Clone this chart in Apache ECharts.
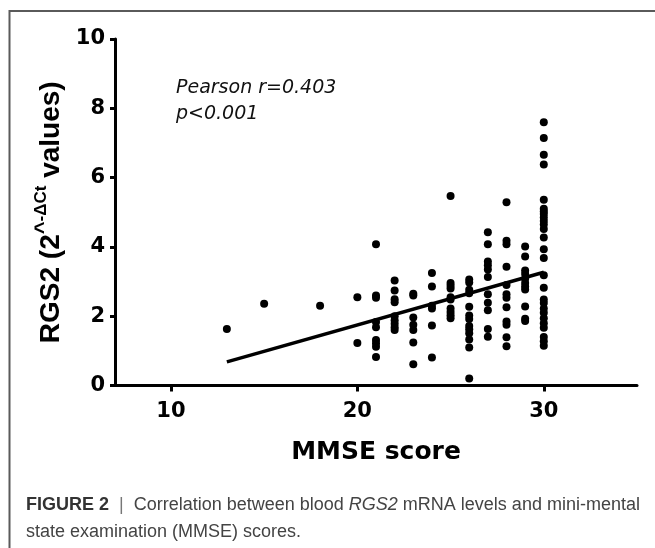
<!DOCTYPE html>
<html>
<head>
<meta charset="utf-8">
<script src="https://cdn.jsdelivr.net/npm/echarts@6/dist/echarts.min.js"></script>
<style>
html, body { margin: 0; padding: 0; background: #fff; }
#chart { width: 655px; height: 548px; }
</style>
</head>
<body>
<div id="chart"></div>
<script>
// MMSE score columns and the RGS2 values
const scores = [13, 15, 18, 20, 21, 22, 23, 24, 25, 26, 27, 28, 29, 30];
const rgs2 = [
  [1.63],
  [2.36],
  [2.30],
  [2.55, 1.23],
  [4.08, 2.60, 2.53, 1.83, 1.68, 1.31, 1.22, 1.12, 0.82],
  [3.03, 2.74, 2.49, 2.40, 2.00, 1.88, 1.78, 1.68, 1.60],
  [2.65, 2.60, 1.96, 1.75, 1.60, 1.24, 0.61],
  [3.25, 2.86, 2.30, 2.22, 1.73, 0.81],
  [5.47, 2.96, 2.88, 2.80, 2.55, 2.48, 2.22, 2.12, 2.03, 1.94],
  [3.06, 2.97, 2.76, 2.66, 2.27, 2.02, 1.92, 1.72, 1.62, 1.51, 1.33, 1.10, 0.20],
  [4.42, 4.08, 3.58, 3.47, 3.35, 3.13, 2.63, 2.39, 2.17, 1.63, 1.41],
  [5.29, 4.18, 4.08, 3.43, 2.90, 2.63, 2.53, 2.26, 1.85, 1.75, 1.39, 1.13],
  [4.01, 3.72, 3.32, 3.22, 3.08, 2.96, 2.86, 2.77, 2.28, 1.93, 1.86],
  [7.60, 7.14, 6.66, 6.38, 5.36, 5.10, 5.02, 4.95, 4.85, 4.75, 4.65, 4.52, 4.27,
   3.93, 3.68, 3.18, 2.82, 2.48, 2.38, 2.22, 2.10, 1.94, 1.80, 1.67, 1.40, 1.28, 1.15]
];
// regression line end points
const fitX = [13, 30];
const fitY = [0.68, 3.27];
const xTicks = [10, 20, 30];

var points = [];
scores.forEach(function (s, i) {
  rgs2[i].forEach(function (v) { points.push([s, v]); });
});
var fitLine = fitX.map(function (x, i) { return [x, fitY[i]]; });

var chart = echarts.init(document.getElementById('chart'), null, { renderer: 'canvas' });

var axisFont = { fontFamily: 'DejaVu Sans', fontWeight: 'bold', color: '#000' };

chart.setOption({
  animation: false,
  backgroundColor: '#fff',
  grid: { left: 115, right: 18, top: 39, bottom: 162.5, outerBoundsMode: 'none' },
  xAxis: {
    type: 'value',
    min: 7,
    max: 35,
    name: 'MMSE score',
    nameLocation: 'middle',
    nameGap: 54,
    nameTextStyle: Object.assign({ fontSize: 25 }, axisFont),
    axisLine: { lineStyle: { color: '#000', width: 3 } },
    axisTick: { customValues: xTicks, length: 6, lineStyle: { color: '#000', width: 3 } },
    axisLabel: Object.assign({ customValues: xTicks, fontSize: 21, margin: 16 }, axisFont),
    splitLine: { show: false }
  },
  yAxis: {
    type: 'value',
    min: 0,
    max: 10,
    interval: 2,
    name: '{m|RGS2 (2}{c|^}{s|-ΔCt}{m| values)}',
    nameLocation: 'middle',
    nameRotate: 90,
    nameGap: 46,
    nameTextStyle: {
      rich: {
        m: { fontFamily: 'Liberation Sans', fontWeight: 'bold', fontSize: 28, lineHeight: 36, color: '#000', verticalAlign: 'middle' },
        c: { fontFamily: 'Liberation Sans', fontWeight: 'bold', fontSize: 22, lineHeight: 24, color: '#000', verticalAlign: 'top' },
        s: { fontFamily: 'Liberation Sans', fontWeight: 'bold', fontSize: 17, lineHeight: 20, color: '#000', verticalAlign: 'top' }
      }
    },
    axisLine: { lineStyle: { color: '#000', width: 3 } },
    axisTick: { length: 5, lineStyle: { color: '#000', width: 3 } },
    axisLabel: Object.assign({ fontSize: 21, margin: 10 }, axisFont),
    splitLine: { show: false }
  },
  series: [
    {
      type: 'line',
      data: fitLine,
      symbol: 'none',
      lineStyle: { color: '#000', width: 3.5 },
      z: 2
    },
    {
      type: 'scatter',
      data: points,
      symbol: 'circle',
      symbolSize: 8,
      itemStyle: { color: '#000', opacity: 1 },
      z: 3
    }
  ],
  graphic: [
    {
      type: 'polyline',
      shape: { points: [[9.5, 548], [9.5, 11], [655, 11]] },
      style: { stroke: '#5a5a5a', lineWidth: 2, fill: null },
      silent: true
    },
    {
      type: 'text',
      left: 176,
      top: 75,
      style: {
        text: 'Pearson r=0.403\np<0.001',
        font: 'italic 19px "DejaVu Sans"',
        lineHeight: 26,
        fill: '#111'
      }
    },
    {
      type: 'text',
      left: 26,
      top: 496,
      style: {
        text: '{b|FIGURE 2}{p|  |  }{n|Correlation between blood }{i|RGS2}{n| mRNA levels and mini-mental}\n{n|state examination (MMSE) scores.}',
        rich: {
          b: { fontFamily: 'Liberation Sans', fontWeight: 'bold', fontSize: 18, lineHeight: 27, fill: '#333' },
          p: { fontFamily: 'Liberation Sans', fontSize: 18, lineHeight: 27, fill: '#777' },
          n: { fontFamily: 'Liberation Sans', fontSize: 18, lineHeight: 27, fill: '#444' },
          i: { fontFamily: 'Liberation Sans', fontStyle: 'italic', fontSize: 18, lineHeight: 27, fill: '#444' }
        }
      }
    }
  ]
});
</script>
</body>
</html>
